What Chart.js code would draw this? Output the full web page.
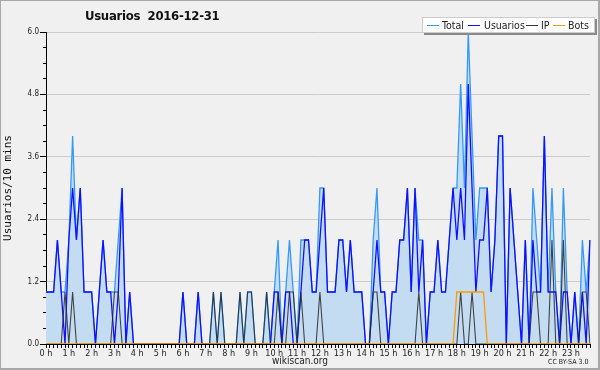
<!DOCTYPE html>
<html>
<head>
<meta charset="utf-8">
<script src="https://cdn.jsdelivr.net/npm/chart.js@4"></script>
<style>
  html, body { margin: 0; padding: 0; background: #f0f0f0; overflow: hidden; }
  #wrap { position: relative; width: 600px; height: 370px; }
  #frame { position: absolute; left: 0; top: 0; width: 600px; height: 370px; box-sizing: border-box;
           border: 1px solid #a8a8a8; border-right-width: 2px; border-bottom-width: 2px; pointer-events: none; }
  .txt { position: absolute; font-family: 'DejaVu Sans Condensed', 'DejaVu Sans', sans-serif; color: #222; white-space: nowrap; }
  #title { left: 85px; top: 8px; font-size: 13px; font-weight: bold; color: #111; letter-spacing: -0.3px; }
  #site { left: 0; width: 600px; text-align: center; top: 355px; font-size: 10px; }
  #lic { left: 548px; top: 358px; font-size: 7px; }
  #legend { position: absolute; left: 422px; top: 17px; width: 171px; height: 14px; background: #fff;
            border: 1px solid #ccc; box-shadow: 2px 2px 0 #8a8a8a; font-family: 'DejaVu Sans Condensed', 'DejaVu Sans', sans-serif;
            font-size: 10.5px; color: #222; white-space: nowrap; }
  #legend .l { position: absolute; top: 7px; width: 12px; height: 1px; }
  #legend .t { position: absolute; top: 0; line-height: 14px; }
</style>
</head>
<body>
<div id="wrap">
  <canvas id="chart" width="600" height="370"></canvas>
  <div class="txt" id="title">Usuarios&nbsp;&nbsp;2016-12-31</div>
  <div id="legend">
    <span class="l" style="left:4px;background:#3399ff"></span><span class="t" style="left:19px">Total</span>
    <span class="l" style="left:45px;background:#1010ff"></span><span class="t" style="left:61px">Usuarios</span>
    <span class="l" style="left:103px;background:#333"></span><span class="t" style="left:118px">IP</span>
    <span class="l" style="left:130px;background:#ff9900"></span><span class="t" style="left:145px">Bots</span>
  </div>
  <div class="txt" id="site">wikiscan.org</div>
  <div class="txt" id="lic">CC BY-SA 3.0</div>
  <div id="frame"></div>
</div>
<script>
// one point every 10 minutes
const times = []
for (let h = 0; h < 24; h++) {
    for (let m = 0; m < 60; m += 10) {
        times.push(String(h).padStart(2, '0') + ':' + String(m).padStart(2, '0'))
    }
}
const hourLabels = []
for (let h = 0; h < 24; h++) hourLabels.push(h + ' h')

const total = [
    1,1,1,2,1,1,2,4,2,3,1,1,1,0,1,2,1,1,1,2,3,0,1,0,
    0,0,0,0,0,0,0,0,0,0,0,0,1,0,0,0,1,0,0,0,1,0,1,0,
    0,0,0,1,0,1,1,0,0,0,1,0,1,2,0,1,2,1,0,2,2,2,1,1,
    3,3,1,1,1,2,2,1,2,1,1,1,0,0,2,3,1,1,0,1,1,2,2,3,
    1,3,2,2,0,1,1,2,1,1,2,3,3,5,3,6,4,2,3,3,3,1,2,4,
    4,0,3,2,1,0,2,0,3,2,1,4,1,3,1,0,3,1,0,1,0,2,1,2
]
const usuarios = [
    1,1,1,2,1,0,2,3,2,3,1,1,1,0,1,2,1,1,0,1,3,0,1,0,
    0,0,0,0,0,0,0,0,0,0,0,0,1,0,0,0,1,0,0,0,0,0,0,0,
    0,0,0,0,0,0,0,0,0,0,0,0,1,1,0,1,1,0,0,1,2,2,1,1,
    2,3,1,1,1,2,2,1,2,1,1,1,0,0,1,2,1,1,0,1,1,2,2,3,
    1,3,1,2,0,1,1,2,1,1,2,3,2,3,2,5,3,1,2,2,3,1,2,4,
    4,0,3,2,1,0,2,0,2,1,1,4,1,1,1,0,1,1,0,1,0,1,0,2
]
const ip = [
    0,0,0,0,0,1,0,1,0,0,0,0,0,0,0,0,0,0,1,1,0,0,0,0,
    0,0,0,0,0,0,0,0,0,0,0,0,0,0,0,0,0,0,0,0,1,0,1,0,
    0,0,0,1,0,1,1,0,0,0,1,0,0,1,0,0,1,1,0,1,0,0,0,0,
    1,0,0,0,0,0,0,0,0,0,0,0,0,0,1,1,0,0,0,0,0,0,0,0,
    0,0,1,0,0,0,0,0,0,0,0,0,0,1,0,0,1,0,0,0,0,0,0,0,
    0,0,0,0,0,0,0,0,1,1,0,0,0,2,0,0,2,0,0,0,0,1,1,0
]
const bots = [
    0,0,0,0,0,0,0,0,0,0,0,0,0,0,0,0,0,0,0,0,0,0,0,0,
    0,0,0,0,0,0,0,0,0,0,0,0,0,0,0,0,0,0,0,0,0,0,0,0,
    0,0,0,0,0,0,0,0,0,0,0,0,0,0,0,0,0,0,0,0,0,0,0,0,
    0,0,0,0,0,0,0,0,0,0,0,0,0,0,0,0,0,0,0,0,0,0,0,0,
    0,0,0,0,0,0,0,0,0,0,0,0,1,1,1,1,1,1,1,1,0,0,0,0,
    0,0,0,0,0,0,0,0,0,0,0,0,0,0,0,0,0,0,0,0,0,0,0,0
]

const font = 'DejaVu Sans Condensed, DejaVu Sans, sans-serif'
const isMajor = v => Math.round(v * 10) % 12 === 0

new Chart(document.getElementById('chart').getContext('2d'), {
    type: 'line',
    data: {
        labels: times,
        datasets: [
            { label: 'Bots', data: bots, borderColor: '#ff9900', borderWidth: 1.3, order: 1 },
            { label: 'IP', data: ip, borderColor: 'rgba(40,40,40,0.85)', borderWidth: 1.1, order: 2 },
            { label: 'Usuarios', data: usuarios, borderColor: '#1010ff', borderWidth: 1.3, order: 3 },
            { label: 'Total', data: total, borderColor: '#3399ff', borderWidth: 1.3,
              backgroundColor: '#c4dcf1', fill: 'origin', order: 4 },
        ],
    },
    options: {
        responsive: false,
        animation: false,
        events: [],
        elements: { point: { radius: 0 }, line: { tension: 0 } },
        layout: { padding: { left: 0, top: 32, right: 10, bottom: 0 } },
        plugins: { legend: { display: false }, tooltip: { enabled: false } },
        scales: {
            x: {
                type: 'category',
                offset: false,
                afterFit: s => { s.height = 26 },
                border: { color: '#000', width: 1 },
                grid: { drawOnChartArea: false, tickLength: 4, tickColor: '#000' },
                ticks: {
                    autoSkip: false, maxRotation: 0, padding: 0, color: '#222',
                    font: { family: font, size: 9 },
                    callback: (v, i) => i % 6 === 0 ? hourLabels[i / 6] : '',
                },
            },
            y: {
                min: 0, max: 6,
                afterFit: s => { s.width = 46 },
                border: { color: '#000', width: 1 },
                grid: {
                    tickLength: 6,
                    color: c => isMajor(c.tick.value) ? '#cbcbcb' : 'rgba(0,0,0,0)',
                    tickColor: '#000',
                    tickBorderDash: c => isMajor(c.tick.value) ? [] : [0, 3, 3, 100],
                },
                ticks: {
                    stepSize: 0.3, autoSkip: false, padding: 1, color: '#222',
                    font: { family: font, size: 8 },
                    callback: v => isMajor(v) ? v.toFixed(1) : '',
                },
                title: {
                    display: true, text: 'Usuarios/10 mins', color: '#111',
                    font: { family: 'DejaVu Sans Mono, monospace', size: 11 },
                    padding: { top: 2, bottom: 2 },
                },
            },
        },
    },
})
</script>
</body>
</html>
